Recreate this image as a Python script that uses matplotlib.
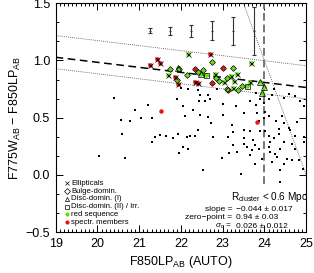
import numpy as np
import matplotlib
matplotlib.use("Agg")
import matplotlib.pyplot as plt
from matplotlib.ticker import MultipleLocator, FuncFormatter

plt.rcParams["font.family"] = ["Liberation Sans", "DejaVu Sans"]
plt.rcParams["mathtext.fontset"] = "custom"
plt.rcParams["mathtext.rm"] = "Liberation Sans"
plt.rcParams["mathtext.it"] = "Liberation Sans:italic"

# ---------------------------------------------------------------- data ----- #
# field galaxies (small black dots)
field_x = [20.03, 20.40, 20.57, 20.60, 20.66, 20.78, 20.89, 21.05, 21.21, 21.30,
           21.31, 21.38, 21.49, 21.64, 21.81, 21.90, 21.94, 21.96, 22.01, 22.05,
           22.06, 22.18, 22.10, 22.14, 22.17, 22.22, 22.30, 22.35, 22.42, 22.42,
           22.44, 22.46, 22.46, 22.53, 22.58, 22.66, 22.66, 22.70, 22.72, 22.78,
           22.86, 22.98, 23.00, 23.02, 23.14, 23.16, 23.22, 23.26, 23.26, 23.32,
           23.34, 23.44, 23.50, 23.50, 23.50, 23.50, 23.58, 23.66, 23.66, 23.66,
           23.70, 23.72, 23.78, 23.78, 23.80, 23.80, 23.82, 23.86, 23.86, 23.90,
           23.90, 23.94, 23.98, 23.98, 24.02, 24.02, 24.10, 24.10, 24.10, 24.12,
           24.14, 24.14, 24.18, 24.19, 24.22, 24.22, 24.26, 24.28, 24.30, 24.34,
           24.35, 24.38, 24.38, 24.38, 24.42, 24.46, 24.46, 24.46, 24.46, 24.54,
           24.60, 24.60, 24.62, 24.66, 24.66, 24.74, 24.74, 24.74, 24.78, 24.82,
           24.86, 24.92, 24.94, 24.94, 24.94]
field_y = [0.164, 0.671, 0.477, 0.358, 0.146, 0.471, 0.564, 0.497, 0.613, 0.494,
           0.291, 0.335, 0.346, 0.341, 0.320, 0.662, 0.358, 0.190, 0.755, 0.242,
           0.604, 0.228, 0.517, 0.329, 0.752, 0.338, 0.567, 0.338, 0.746, 0.393,
           0.645, 0.702, 0.526, 0.045, 0.645, 0.702, 0.503, 0.659, 0.450, 0.329,
           0.754, 0.150, 0.526, 0.616, 0.329, 0.190, 0.439, 0.257, 0.372, 0.601,
           0.198, 0.010, 0.537, 0.393, 0.320, 0.271, 0.242, 0.650, 0.381, 0.170,
           0.213, 0.306, 0.097, 0.257, 0.717, 0.613, 0.537, 0.474, 0.228, 0.659,
           0.384, 0.141, 0.497, 0.624, 0.546, 0.381, 0.667, 0.343, 0.242, 0.517,
           0.285, 0.198, 0.111, 0.700, 0.749, 0.320, 0.184, 0.474, 0.155, 0.402,
           0.358, 0.228, 0.045, -0.063, 0.517, 0.668, 0.450, 0.285, 0.097, 0.141,
           0.706, 0.410, 0.389, 0.271, 0.126, 0.691, 0.343, 0.228, 0.459, 0.126,
           0.648, 0.054, 0.604, 0.329, 0.285]

# spectroscopic members without morphology
spec_x = [21.53, 23.83]
spec_y = [0.558, 0.459]

# morphologically classified galaxies
# type: E = elliptical, B = bulge-dominated, D1 = disc (I), D2 = disc (II)/irr
morph_x = [21.25, 21.42, 21.50, 21.85, 21.92, 22.70, 22.33, 22.40,
           22.33, 23.02, 22.75, 23.14,
           21.70, 22.18, 23.68, 22.82, 23.20, 23.35, 23.04, 23.28, 23.66, 23.24,
           21.74, 21.96, 21.90, 22.74, 23.26, 22.53, 22.14, 22.40, 22.84, 22.92,
           23.10, 23.47, 23.10, 23.38,
           21.93, 22.48, 23.90, 24.00, 23.94,
           23.58, 22.60]
morph_y = [0.958, 1.016, 0.981, 0.859, 0.793, 1.054, 0.816, 0.804,
           0.926, 0.937, 0.804, 0.741,
           0.874, 1.054, 0.981, 0.880, 0.868, 0.880, 0.810, 0.822, 0.816, 0.763,
           0.923, 0.923, 0.828, 0.990, 0.932, 0.920, 0.874, 0.903, 0.851, 0.822,
           0.843, 0.781, 0.749, 0.743,
           0.937, 0.885, 0.810, 0.770, 0.715,
           0.781, 0.874]
morph_col = ["r"] * 12 + ["g"] * 31
morph_type = (["E"] * 8 + ["B"] * 4 + ["E"] * 10 + ["B"] * 14
              + ["D1"] * 5 + ["D2"] * 2)

# typical colour errors vs magnitude
err_x = [21.25, 21.75, 22.25, 22.75, 23.25, 23.75]
err_y = [1.26] * 6
err_dy = [0.024, 0.036, 0.054, 0.083, 0.123, 0.21]

# red-sequence fit
SLOPE, ZP, X_PIVOT = -0.044, 0.94, 21.0
BAND_HI, BAND_LO = 0.19, -0.10
MAG_LIMIT = 25.0   # F775W completeness
MAG_CUT = 24.0

GREEN = "#66dd11"
RED = "#ee1111"
colmap = {"r": RED, "g": GREEN}
symbols = {"E": "x", "B": "D", "D1": "^", "D2": "s"}
symsize = {"E": 3.6, "B": 3.0, "D1": 3.8, "D2": 3.6}

# ---------------------------------------------------------------- figure --- #
fig = plt.figure(figsize=(3.14, 2.73), dpi=100)
ax = fig.add_axes([0.177, 0.150, 0.798, 0.838])

xx = np.array([19.0, 25.0])
fit = ZP + SLOPE * (xx - X_PIVOT)
dot = (0, (1, 1.5))
ax.plot(xx, fit, color="black", lw=1.1, dashes=(5, 3), zorder=2)
ax.plot(xx, fit + BAND_HI, color="#444444", lw=0.6, ls=dot, zorder=2)
ax.plot(xx, fit + BAND_LO, color="#444444", lw=0.6, ls=dot, zorder=2)
ax.plot(xx, MAG_LIMIT - xx, color="#444444", lw=0.6, ls=dot, zorder=2)
ax.axvline(MAG_CUT, ymin=0.21, color="#777777", lw=1.4, dashes=(4, 2), zorder=2)

ax.errorbar(err_x, err_y, yerr=err_dy, fmt="none", ecolor="#333333",
            elinewidth=0.8, capsize=1.6, capthick=0.8, zorder=3)
ax.plot(err_x, err_y, ls="none", marker="_", ms=2, color="#333333", mew=0.8)

ax.plot(field_x, field_y, ls="none", marker="s", ms=1.5, color="black",
        mew=0, zorder=3)
ax.plot(spec_x, spec_y, ls="none", marker="o", ms=3.2, color=RED, mew=0,
        zorder=3)

for x, y, c, t in zip(morph_x, morph_y, morph_col, morph_type):
    ax.plot(x, y, ls="none", marker="o", ms=3.3, color=colmap[c], mew=0,
            zorder=4)
    ax.plot(x, y, ls="none", marker=symbols[t], ms=symsize[t],
            mfc="none", mec="black", mew=0.5, zorder=5)

ax.set_xlim(19, 25)
ax.set_ylim(-0.5, 1.5)
ax.xaxis.set_major_locator(MultipleLocator(1))
ax.xaxis.set_minor_locator(MultipleLocator(0.1))
ax.yaxis.set_major_locator(MultipleLocator(0.5))
ax.yaxis.set_minor_locator(MultipleLocator(0.5 / 3))
ax.yaxis.set_major_formatter(FuncFormatter(lambda v, p: f"{v:.1f}".replace("-", "\u2212")))
ax.tick_params(which="both", direction="in", top=True, right=True,
               labelsize=9, width=0.7)
ax.tick_params(which="major", length=5, pad=4)
ax.tick_params(which="minor", length=2.5)
for s in ax.spines.values():
    s.set_linewidth(0.8)

ax.set_xlabel(r"F850LP$_{\rm AB}$ (AUTO)", fontsize=9, labelpad=3)
ax.set_ylabel(r"F775W$_{\rm AB}$ $-$ F850LP$_{\rm AB}$", fontsize=9, labelpad=2)

# legend drawn by hand
leg_items = [("x", "Ellipticals", "none"), ("D", "Bulge-domin.", "none"),
             ("^", "Disc-domin. (I)", "none"), ("s", "Disc-domin. (II) / Irr.", "none"),
             ("o", "red sequence", GREEN), ("o", "spectr. members", RED)]
for i, (m, lab, fc) in enumerate(leg_items):
    yy = 0.213 - i * 0.034
    if fc == "none":
        ax.plot(0.046, yy, marker=m, ms=3, mfc="none", mec="black", mew=0.5,
                transform=ax.transAxes)
    else:
        ax.plot(0.046, yy, marker="o", ms=3, color=fc, mew=0,
                transform=ax.transAxes)
    ax.text(0.062, yy, lab, fontsize=5.6, va="center", ha="left",
            transform=ax.transAxes)

ax.text(0.855, 0.152, r"R$_{\rm cluster}$ < 0.6 Mpc", fontsize=7.2,
        ha="center", va="center", transform=ax.transAxes)
stats = [("slope", "\u22120.044 \u00b1 0.017"),
         ("zero\u2212point", "0.94 \u00b1 0.03"),
         (r"$\sigma_{\rm c}$", "0.026 \u00b1 0.012")]
for i, (k, v) in enumerate(stats):
    yy = 0.100 - i * 0.038
    ax.text(0.705, yy, k + " =", fontsize=6, ha="right", va="center",
            transform=ax.transAxes)
    ax.text(0.722, yy, v, fontsize=6, ha="left", va="center",
            transform=ax.transAxes)

fig.savefig("out.png", dpi=100)
